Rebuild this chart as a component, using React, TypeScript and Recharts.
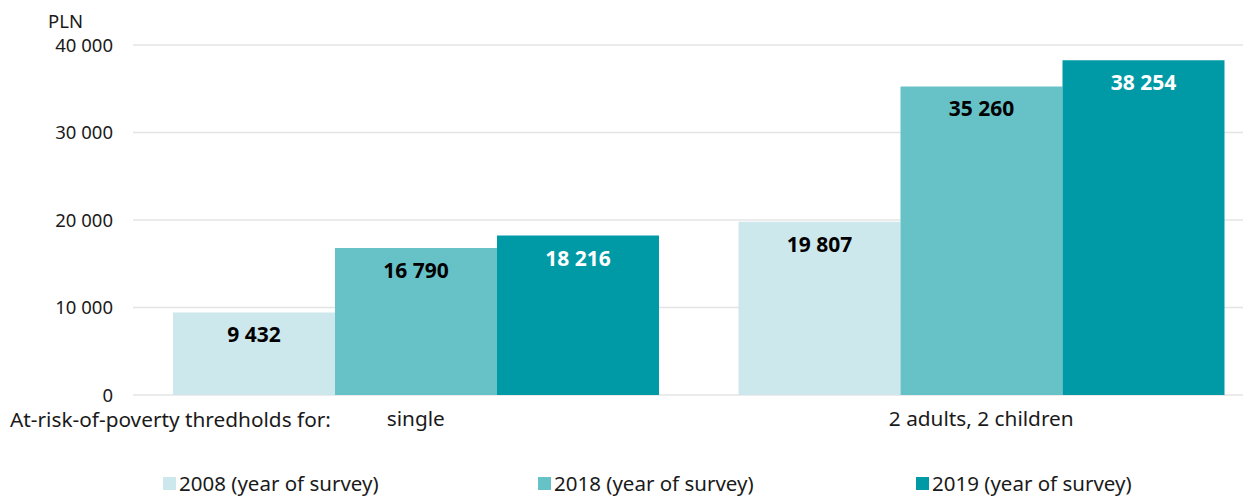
import { BarChart, Bar, XAxis, YAxis, CartesianGrid, Legend, LabelList } from "recharts";

const categories = ["single", "2 adults, 2 children"];
const seriesNames = ["2008 (year of survey)", "2018 (year of survey)", "2019 (year of survey)"];
const values2008 = [9432, 19807];
const values2018 = [16790, 35260];
const values2019 = [18216, 38254];
const yTicks = [0, 10000, 20000, 30000, 40000];

const seriesColors = ["#cde8ec", "#67c2c8", "#009aa6"];
const labelColors = ["#000000", "#000000", "#ffffff"];
const FONT = "'Noto Sans', 'Open Sans', sans-serif";

const data = categories.map((c, i) => ({
  category: c,
  s2008: values2008[i],
  s2018: values2018[i],
  s2019: values2019[i],
}));
const keys = ["s2008", "s2018", "s2019"];

const fmt = (n: number) => String(n).replace(/\B(?=(\d{3})+(?!\d))/g, " ");

function LegendBox() {
  return (
    <div style={{ height: 62, position: "relative", fontFamily: FONT }}>
      {seriesNames.map((name, i) => (
        <div
          key={name}
          style={{
            position: "absolute",
            left: [155, 530, 908][i],
            bottom: 2,
            display: "flex",
            alignItems: "center",
            fontSize: 20.5,
            color: "#1a1a1a",
            whiteSpace: "nowrap",
            lineHeight: "24px",
          }}
        >
          <span style={{ display: "inline-block", width: 13, height: 13, background: seriesColors[i], marginRight: 3 }} />
          {name}
        </div>
      ))}
    </div>
  );
}

export default function App() {
  return (
    <div style={{ position: "relative", width: 1237, height: 489, overflow: "hidden", fontFamily: FONT }}>
      <div style={{ position: "absolute", left: 40, top: 3, fontSize: 18.5, lineHeight: "20px", color: "#1a1a1a" }}>PLN</div>
      <div style={{ position: "absolute", left: 2, top: 397, fontSize: 20.8, color: "#1a1a1a", whiteSpace: "nowrap" }}>
        At-risk-of-poverty thredholds for:
      </div>
      <BarChart
        width={1256}
        height={489}
        data={data}
        margin={{ top: 37, right: 0, left: 0, bottom: 0 }}
        barCategoryGap={40}
        barGap={0}
      >
        <CartesianGrid vertical={false} stroke="#e4e4e4" strokeWidth={1.5} />
        <XAxis
          dataKey="category"
          tickLine={false}
          axisLine={false}
          tickSize={0}
          tickMargin={16}
          height={40}
          tick={{ fontSize: 20.8, fill: "#1a1a1a", fontFamily: FONT }}
        />
        <YAxis
          width={125}
          domain={[0, 40000]}
          ticks={yTicks}
          tickFormatter={fmt}
          tickLine={false}
          axisLine={false}
          tickSize={0}
          tickMargin={20}
          tick={{ fontSize: 18.5, fill: "#1a1a1a", fontFamily: FONT }}
        />
        <Legend verticalAlign="bottom" content={() => <LegendBox />} />
        {keys.map((k, i) => (
          <Bar key={k} dataKey={k} name={seriesNames[i]} fill={seriesColors[i]} isAnimationActive={false}>
            <LabelList
              dataKey={k}
              position="insideTop"
              offset={15}
              formatter={(v: number) => fmt(v)}
              style={{ fontSize: 21, fontWeight: 700, fill: labelColors[i], fontFamily: FONT }}
            />
          </Bar>
        ))}
      </BarChart>
    </div>
  );
}
